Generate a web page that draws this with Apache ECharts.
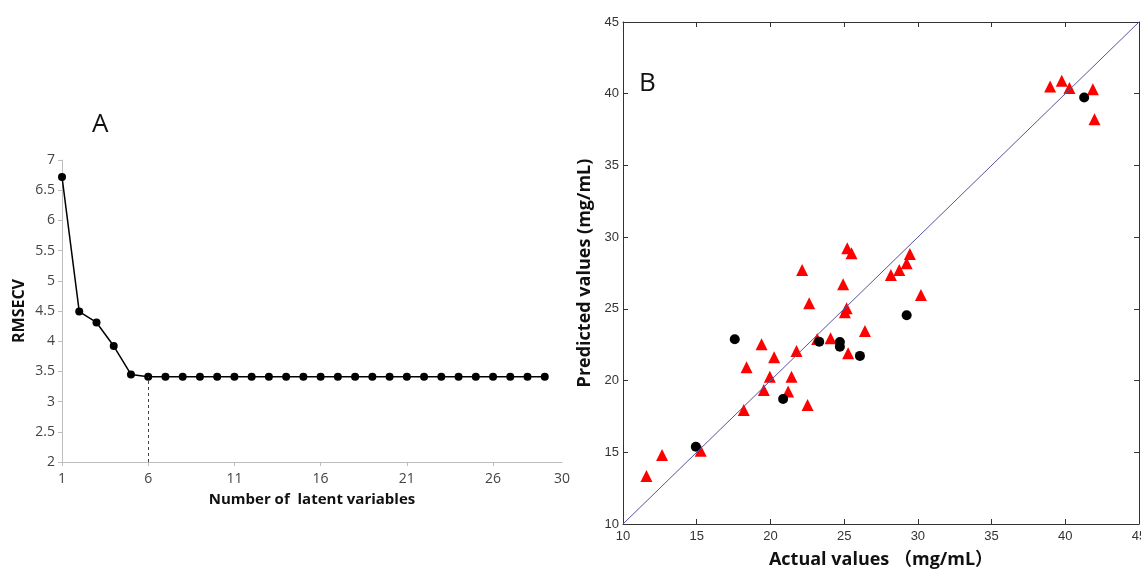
<!DOCTYPE html>
<html>
<head>
<meta charset="utf-8">
<title>RMSECV and prediction plot</title>
<script src="https://cdn.jsdelivr.net/npm/echarts@6/dist/echarts.min.js"></script>
<style>
  html, body { margin: 0; padding: 0; background: #fff; }
  #main { width: 1141px; height: 572px; }
</style>
</head>
<body>
<div id="main"></div>
<script>
// A: RMSECV vs number of latent variables
var lvNumbers = [1,2,3,4,5,6,7,8,9,10,11,12,13,14,15,16,17,18,19,20,21,22,23,24,25,26,27,28,29];
var rmsecv = [6.72,4.49,4.31,3.92,3.45,3.41,3.41,3.41,3.41,3.41,3.41,3.41,3.41,3.41,3.41,
              3.41,3.41,3.41,3.41,3.41,3.41,3.41,3.41,3.41,3.41,3.41,3.41,3.41,3.41];
var lvTickLabels = [1,6,11,16,21,26,30];
var optimalLV = 6;

// B: predicted vs actual (mg/mL)
var calActual = [38.97,39.76,40.28,41.87,41.98,25.21,25.5,29.46,29.24,28.74,28.17,
                 22.15,24.93,30.21,22.63,25.17,25.05,26.41,23.17,24.08,25.27,21.77,20.25,19.4,
                 19.96,21.43,19.55,21.2,22.52,18.38,18.19,15.27,12.65,11.59];
var calPredicted = [40.5,40.91,40.4,40.31,38.22,29.23,28.88,28.83,28.18,27.71,27.36,
                    27.71,26.72,25.97,25.39,25.04,24.76,23.46,22.9,22.95,21.9,22.06,21.62,22.53,
                    20.27,20.27,19.34,19.23,18.3,20.93,17.95,15.11,14.81,13.35];
var valActual = [41.28,29.24,23.31,24.71,24.71,26.07,20.86,17.58,14.94];
var valPredicted = [39.73,24.55,22.71,22.69,22.36,21.72,18.72,22.88,15.39];
var identityLine = [[10,10],[45,45]];

function pairs(xs, ys) {
  return xs.map(function (x, i) { return [x, ys[i]]; });
}

var chart = echarts.init(document.getElementById('main'));

var leftAxisLine = { lineStyle: { color: '#bdbdbd', width: 1 } };
var leftLabel = { color: '#444', fontSize: 14, fontFamily: 'Open Sans' };
var boxLine = { lineStyle: { color: '#333', width: 1 } };
var boxLabel = { color: '#333', fontSize: 13, fontFamily: 'Liberation Sans' };
var bold = function (size) {
  return { color: '#111', fontSize: size, fontWeight: 'bold', fontFamily: 'Open Sans, Noto Sans CJK SC' };
};

option = {
  animation: false,
  grid: [
    { left: 62, right: 579, top: 160, bottom: 110, outerBoundsMode: 'none' },
    { left: 623, right: 2, top: 22, bottom: 48, outerBoundsMode: 'none' }
  ],
  graphic: [
    { type: 'text', left: 92, top: 112, style: { text: 'A', fontSize: 26, fill: '#111', fontFamily: 'Open Sans' } },
    { type: 'text', left: 639, top: 71, style: { text: 'B', fontSize: 26, fill: '#111', fontFamily: 'Open Sans' } }
  ],
  xAxis: [
    {
      type: 'value', gridIndex: 0, min: 1, max: 30,
      name: 'Number of  latent variables', nameLocation: 'middle', nameGap: 30,
      nameTextStyle: bold(15),
      axisLine: leftAxisLine,
      axisTick: { show: true, length: 4, lineStyle: { color: '#bdbdbd' }, customValues: [1,6,11,16,21,26] },
      axisLabel: Object.assign({ customValues: lvTickLabels, margin: 10 }, leftLabel),
      splitLine: { show: false }
    },
    {
      type: 'value', gridIndex: 1, min: 10, max: 45, interval: 5,
      name: 'Actual values （mg/mL）', nameLocation: 'middle', nameGap: 27,
      nameTextStyle: bold(18),
      axisLine: boxLine,
      axisTick: { inside: true, length: 5, lineStyle: { color: '#333' } },
      axisLabel: Object.assign({ margin: 6 }, boxLabel),
      splitLine: { show: false }
    },
    {
      type: 'value', gridIndex: 1, min: 10, max: 45, interval: 5, position: 'top',
      axisLine: boxLine,
      axisTick: { inside: true, length: 5, lineStyle: { color: '#333' } },
      axisLabel: { show: false },
      splitLine: { show: false }
    }
  ],
  yAxis: [
    {
      type: 'value', gridIndex: 0, min: 2, max: 7, interval: 0.5,
      name: 'RMSECV', nameLocation: 'middle', nameGap: 35,
      nameTextStyle: bold(16),
      axisLine: { show: true, lineStyle: { color: '#bdbdbd' } },
      axisTick: { show: true, length: 4, lineStyle: { color: '#bdbdbd' } },
      axisLabel: Object.assign({ margin: 7 }, leftLabel),
      splitLine: { show: false }
    },
    {
      type: 'value', gridIndex: 1, min: 10, max: 45, interval: 5,
      name: 'Predicted values (mg/mL)', nameLocation: 'middle', nameGap: 29,
      nameTextStyle: bold(18),
      axisLine: { show: true, lineStyle: { color: '#333' } },
      axisTick: { show: true, inside: true, length: 5, lineStyle: { color: '#333' } },
      axisLabel: Object.assign({ margin: 4 }, boxLabel),
      splitLine: { show: false }
    },
    {
      type: 'value', gridIndex: 1, min: 10, max: 45, interval: 5, position: 'right',
      axisLine: { show: true, lineStyle: { color: '#333' } },
      axisTick: { show: true, inside: true, length: 5, lineStyle: { color: '#333' } },
      axisLabel: { show: false },
      splitLine: { show: false }
    }
  ],
  series: [
    {
      type: 'line', xAxisIndex: 0, yAxisIndex: 0,
      data: pairs(lvNumbers, rmsecv),
      symbol: 'circle', symbolSize: 8,
      itemStyle: { color: '#000' },
      lineStyle: { color: '#000', width: 1.5 },
      markLine: {
        silent: true, symbol: 'none', label: { show: false },
        lineStyle: { color: '#444', type: [3, 3], width: 1 },
        data: [[{ coord: [optimalLV, 2] }, { coord: [optimalLV, rmsecv[optimalLV - 1]] }]]
      }
    },
    {
      type: 'scatter', xAxisIndex: 1, yAxisIndex: 1,
      data: pairs(calActual, calPredicted),
      symbol: 'triangle', symbolSize: 12,
      itemStyle: { color: '#ff0000', opacity: 1 }
    },
    {
      type: 'line', xAxisIndex: 1, yAxisIndex: 1,
      data: identityLine, symbol: 'none',
      lineStyle: { color: '#55559a', width: 1 }
    },
    {
      type: 'scatter', xAxisIndex: 1, yAxisIndex: 1,
      data: pairs(valActual, valPredicted),
      symbol: 'circle', symbolSize: 10,
      itemStyle: { color: '#000', opacity: 1 }
    }
  ]
};

chart.setOption(option);
</script>
</body>
</html>
